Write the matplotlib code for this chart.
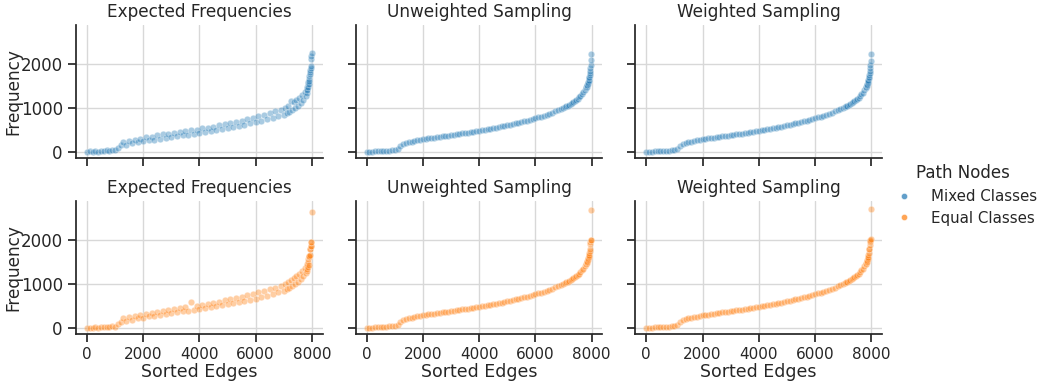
import matplotlib
matplotlib.use("Agg")

import matplotlib.pyplot as plt
import seaborn as sns
from matplotlib.lines import Line2D

# =========================
# data
# =========================
# edge ranks: coarse in the flat part, finer where the curve shoots up
EDGES = list(range(0, 7000, 100)) + list(range(7000, 7800, 50)) + list(range(7800, 8000, 10))

PANELS = ["Expected Frequencies", "Unweighted Sampling", "Weighted Sampling"]
GROUPS = ["Mixed Classes", "Equal Classes"]

EXP_MIXED = [
    0, 14, 6, 22, 12, 30, 18, 38, 26, 44,
    36, 95, 150, 235, 170, 255, 195, 282, 222, 305,
    242, 330, 265, 352, 282, 375, 305, 398, 322, 412,
    345, 438, 358, 455, 378, 472, 395, 492, 412, 508,
    432, 535, 452, 552, 472, 578, 495, 602, 518, 628,
    545, 658, 568, 684, 592, 712, 618, 742, 648, 776,
    672, 812, 708, 846, 738, 882, 772, 922, 812, 962,
    850, 1000, 882, 1045, 912, 1150, 952, 1128, 995, 1182,
    1042, 1232, 1102, 1298, 1180, 1362,
    1262, 1420, 1330, 1478, 1402, 1540, 1468, 1598, 1545, 1660,
    1618, 1720, 1762, 1805, 1852, 1905, 1948, 2100, 2180, 2250,
]
UW_MIXED = [
    0, 5, 10, 14, 18, 22, 26, 30, 35, 40,
    48, 75, 145, 180, 203, 220, 235, 249, 263, 277,
    290, 299, 308, 317, 326, 335, 345, 354, 364, 373,
    383, 392, 402, 411, 421, 430, 440, 450, 460, 470,
    480, 492, 504, 516, 528, 540, 553, 566, 579, 592,
    605, 620, 635, 650, 665, 680, 697, 714, 731, 748,
    765, 785, 805, 826, 848, 870, 895, 920, 946, 975,
    1005, 1020, 1036, 1053, 1070, 1090, 1110, 1132, 1155, 1180,
    1207, 1237, 1270, 1308, 1350, 1400,
    1455, 1468, 1482, 1497, 1513, 1530, 1548, 1568, 1590, 1614,
    1640, 1670, 1705, 1745, 1790, 1845, 1905, 1975, 2080, 2230,
]
W_MIXED = [
    0, 5, 9, 13, 17, 21, 25, 30, 34, 40,
    47, 72, 140, 178, 202, 219, 234, 248, 262, 276,
    289, 298, 307, 316, 325, 334, 344, 353, 363, 372,
    382, 391, 401, 410, 420, 429, 439, 449, 459, 469,
    479, 491, 503, 515, 527, 539, 552, 565, 578, 591,
    604, 619, 634, 649, 664, 679, 696, 713, 730, 747,
    764, 784, 804, 825, 847, 869, 894, 919, 945, 974,
    1003, 1018, 1034, 1051, 1068, 1088, 1108, 1130, 1153, 1178,
    1205, 1235, 1268, 1305, 1348, 1398,
    1452, 1465, 1479, 1494, 1510, 1527, 1545, 1565, 1587, 1611,
    1637, 1667, 1702, 1742, 1788, 1840, 1900, 1970, 2070, 2215,
]
EXP_EQUAL = [
    0, 10, 4, 18, 10, 26, 15, 34, 22, 40,
    32, 90, 140, 228, 168, 250, 190, 278, 218, 300,
    238, 325, 262, 348, 280, 372, 302, 395, 318, 410,
    342, 435, 355, 452, 375, 470, 392, 590, 410, 505,
    428, 530, 448, 550, 468, 575, 492, 600, 515, 625,
    540, 655, 565, 680, 590, 708, 615, 738, 645, 772,
    668, 808, 705, 842, 735, 878, 768, 918, 808, 958,
    845, 995, 878, 1040, 908, 1085, 948, 1125, 990, 1178,
    1040, 1228, 1100, 1295, 1175, 1358,
    1255, 1400, 1290, 1450, 1340, 1500, 1380, 1560, 1420, 1600,
    1625, 1640, 1660, 1790, 1800, 1850, 1870, 1940, 1960, 2640,
]
UW_EQUAL = [
    0, 5, 10, 14, 18, 22, 26, 30, 35, 40,
    48, 72, 142, 178, 202, 219, 234, 248, 262, 276,
    289, 298, 307, 316, 325, 334, 344, 353, 363, 372,
    382, 391, 401, 410, 420, 429, 439, 449, 459, 469,
    479, 491, 503, 515, 527, 539, 552, 565, 578, 591,
    604, 619, 634, 649, 664, 679, 696, 713, 730, 747,
    764, 784, 804, 825, 847, 869, 894, 919, 945, 974,
    1003, 1018, 1034, 1051, 1068, 1088, 1108, 1130, 1153, 1178,
    1205, 1235, 1268, 1305, 1348, 1398,
    1450, 1462, 1476, 1490, 1505, 1522, 1540, 1560, 1582, 1606,
    1632, 1660, 1700, 1750, 1800, 1895, 1950, 1985, 2005, 2680,
]
W_EQUAL = [
    0, 5, 9, 13, 17, 21, 25, 29, 34, 39,
    46, 70, 138, 176, 200, 218, 233, 247, 261, 275,
    288, 297, 306, 315, 324, 333, 343, 352, 362, 371,
    381, 390, 400, 409, 419, 428, 438, 448, 458, 468,
    478, 490, 502, 514, 526, 538, 551, 564, 577, 590,
    603, 618, 633, 648, 663, 678, 695, 712, 729, 746,
    763, 783, 803, 824, 846, 868, 893, 918, 944, 973,
    1002, 1017, 1033, 1050, 1067, 1087, 1107, 1129, 1152, 1177,
    1204, 1234, 1267, 1304, 1347, 1397,
    1450, 1462, 1476, 1490, 1506, 1522, 1540, 1562, 1585, 1615,
    1650, 1700, 1780, 1800, 1890, 1950, 1970, 2000, 2020, 2700,
]

FREQS = [
    [EXP_MIXED, UW_MIXED, W_MIXED],
    [EXP_EQUAL, UW_EQUAL, W_EQUAL],
]
COLORS = ["#1f77b4", "#ff7f0e"]

# =========================
# style
# =========================
sns.set_theme(context="notebook", style="ticks",
              rc={"axes.grid": True, "grid.color": "#d8d8d8"})

fig, axes = plt.subplots(2, 3, figsize=(10.45, 3.82), sharex=True, sharey=True)
fig.subplots_adjust(left=0.0727, right=0.844, top=0.9346, bottom=0.1257, wspace=0.134, hspace=0.323)

for r in range(2):
    for c in range(3):
        ax = axes[r, c]
        ax.scatter(EDGES, FREQS[r][c], s=22, color=COLORS[r], alpha=0.38,
                   edgecolor="white", linewidth=0.5, zorder=3)
        ax.set_title(PANELS[c], fontsize=12.2)
        ax.tick_params(axis="y", labelsize=12)
        sns.despine(ax=ax)
        if c == 0:
            ax.set_ylabel("Frequency", fontsize=12.2)
            ax.yaxis.set_label_coords(-0.218, 0.5)
        if r == 1:
            ax.set_xlabel("Sorted Edges", fontsize=12.5, labelpad=0.5)

axes[0, 0].set_xticks([0, 2000, 4000, 6000, 8000])
axes[0, 0].set_yticks([0, 1000, 2000])
axes[0, 0].set_xlim(-390, 8380)
axes[0, 0].set_ylim(-135, 2880)

handles = [
    Line2D([], [], marker="o", linestyle="", markersize=4.5, color=col,
           markeredgecolor="white", markeredgewidth=0.5, alpha=0.7)
    for col in COLORS
]
leg = fig.legend(handles, GROUPS, title="Path Nodes", loc="center left",
                 bbox_to_anchor=(0.838, 0.49), frameon=False, fontsize=10.8,
                 title_fontsize=12, handletextpad=0.8, labelspacing=0.45)

fig.savefig("out.png", dpi=100, facecolor="white")
